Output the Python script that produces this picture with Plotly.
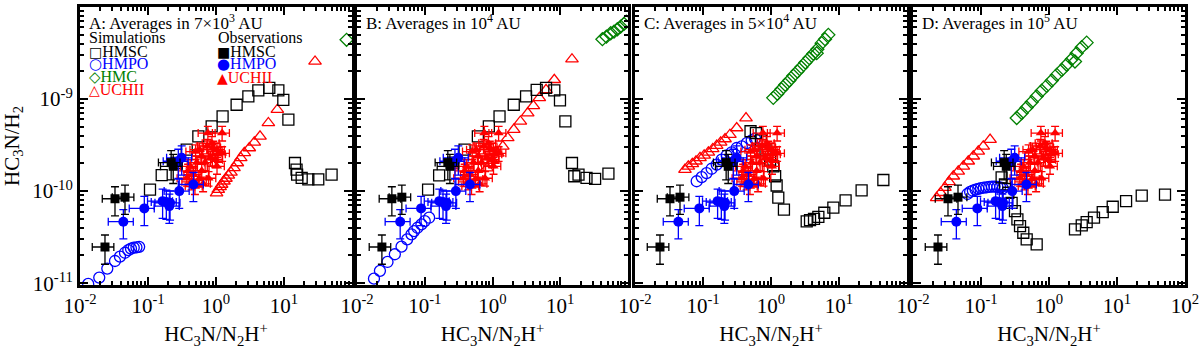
import plotly.graph_objects as go

# ---- simulations (open symbols), one set per panel ----
# panel A: 7x10^3 AU
a_hmsc_x = [0.107, 0.159, 0.264, 0.371, 0.55, 0.863, 1.25, 2.01, 2.99, 4.19, 6.08, 8.26, 9.77, 11.6,
            14.5, 15.3, 15.6, 18.2, 22.8, 31.9, 50.1]
a_hmsc_y = [1.04e-10, 1.49e-10, 2.02e-10, 2.82e-10, 3.94e-10, 5.05e-10, 6.49e-10, 8.67e-10, 1.07e-9,
            1.24e-9, 1.32e-9, 1.24e-9, 9.8e-10, 5.97e-10, 2.02e-10, 1.71e-10, 1.51e-10, 1.39e-10,
            1.34e-10, 1.34e-10, 1.51e-10]
a_hmpo_x = [0.0132, 0.0192, 0.0252, 0.0327, 0.0387, 0.0459, 0.0513, 0.0562, 0.0617, 0.0676, 0.0741]
a_hmpo_y = [9.8e-12, 1.15e-11, 1.44e-11, 1.74e-11, 1.94e-11, 2.14e-11, 2.29e-11, 2.37e-11, 2.43e-11,
            2.45e-11, 2.48e-11]
a_hmc_x = [83.2]
a_hmc_y = [4.4e-9]
a_uchii_x = [1.02, 1.08, 1.15, 1.21, 1.31, 1.4, 1.52, 1.66, 1.84, 2.06, 2.31, 2.61, 3.09, 3.66, 4.44,
             5.89, 7.98, 28.6]
a_uchii_y = [9.5e-11, 1.04e-10, 1.11e-10, 1.18e-10, 1.28e-10, 1.37e-10, 1.48e-10, 1.6e-10, 1.79e-10,
             2.02e-10, 2.3e-10, 2.6e-10, 2.94e-10, 3.39e-10, 3.94e-10, 5.5e-10, 7.66e-10, 2.56e-9]

# panel B: 10^4 AU
b_hmsc_x = [0.112, 0.163, 0.263, 0.387, 0.608, 0.883, 1.27, 2.06, 3.13, 4.49, 6.17, 8.17, 9.91, 11.9,
            14.9, 16.1, 18.6, 24.4, 32.7, 51.4]
b_hmsc_y = [1.04e-10, 1.48e-10, 2.04e-10, 2.82e-10, 3.94e-10, 5.05e-10, 6.49e-10, 8.67e-10, 1.07e-9,
            1.26e-9, 1.32e-9, 1.24e-9, 9.66e-10, 5.71e-10, 2.02e-10, 1.45e-10, 1.51e-10, 1.39e-10,
            1.36e-10, 1.55e-10]
b_hmpo_x = [0.0178, 0.0218, 0.0282, 0.0362, 0.0454, 0.055, 0.0637, 0.0697, 0.0782, 0.0893, 0.1, 0.116]
b_hmpo_y = [1.12e-11, 1.36e-11, 1.7e-11, 2.06e-11, 2.49e-11, 2.99e-11, 3.39e-11, 3.68e-11, 4.0e-11,
            4.35e-11, 4.72e-11, 5.14e-11]
b_hmc_x = [41.9, 48.0, 55.6, 62.2, 69.7, 78.0, 87.3, 94.4]
b_hmc_y = [4.47e-9, 4.76e-9, 5.19e-9, 5.4e-9, 5.73e-9, 6.12e-9, 6.55e-9, 6.93e-9]
b_uchii_x = [0.832, 1.0, 1.2, 1.42, 1.68, 2.06, 2.58, 3.31, 4.01, 4.91, 6.17, 8.17, 14.9]
b_uchii_y = [1.78e-10, 2.14e-10, 2.57e-10, 3.06e-10, 3.78e-10, 4.65e-10, 5.71e-10, 7.05e-10,
             8.45e-10, 1.03e-9, 1.26e-9, 1.62e-9, 2.71e-9]

# panel C: 5x10^4 AU
c_hmsc_x = [0.50, 0.60, 0.71, 0.83, 0.97, 1.08, 1.15, 1.21, 1.28, 1.55, 3.35, 3.75, 4.29, 4.97, 6.08,
            8.26, 12.5, 21.5, 44.9]
c_hmsc_y = [4.47e-10, 4.27e-10, 3.55e-10, 2.82e-10, 2.19e-10, 1.86e-10, 1.45e-10, 1.15e-10, 8.5e-11,
            6.3e-11, 4.68e-11, 4.84e-11, 5.0e-11, 5.25e-11, 5.82e-11, 6.61e-11, 7.94e-11, 1.02e-10,
            1.32e-10]
c_hmpo_x = [0.0807, 0.0957, 0.113, 0.134, 0.159, 0.188, 0.223, 0.264, 0.313, 0.372, 0.44, 0.52, 0.582]
c_hmpo_y = [1.28e-10, 1.42e-10, 1.57e-10, 1.75e-10, 1.94e-10, 2.2e-10, 2.45e-10, 2.64e-10, 2.94e-10,
            3.06e-10, 3.32e-10, 3.56e-10, 3.72e-10]
c_hmc_x = [1.08, 1.24, 1.42, 1.62, 1.86, 2.13, 2.44, 2.79, 3.2, 3.66, 4.19, 4.8, 5.56, 6.22, 6.97, 4.7]
c_hmc_y = [1.03e-9, 1.14e-9, 1.28e-9, 1.43e-9, 1.59e-9, 1.79e-9, 1.99e-9, 2.22e-9, 2.49e-9, 2.78e-9,
           3.1e-9, 3.48e-9, 4.05e-9, 4.47e-9, 4.98e-9, 3.15e-9]
c_uchii_x = [0.0543, 0.0608, 0.0697, 0.0789, 0.0904, 0.104, 0.12, 0.139, 0.159, 0.182, 0.211, 0.249,
             0.313, 0.429]
c_uchii_y = [1.71e-10, 1.86e-10, 1.98e-10, 2.11e-10, 2.3e-10, 2.45e-10, 2.64e-10, 2.87e-10, 3.12e-10,
             3.39e-10, 3.68e-10, 4.1e-10, 4.85e-10, 6.22e-10]

# panel D: 10^5 AU
d_hmsc_x = [0.201, 0.225, 0.252, 0.282, 0.316, 0.343, 0.375, 0.419, 0.47, 0.659, 2.41, 3.03, 3.58,
            4.59, 6.17, 8.65, 13.6, 23.1, 50.8]
d_hmsc_y = [1.41e-10, 1.18e-10, 9.6e-11, 7.46e-11, 6.05e-11, 4.92e-11, 4.17e-11, 3.53e-11, 2.99e-11,
            2.64e-11, 3.84e-11, 4.24e-11, 4.6e-11, 5.14e-11, 5.92e-11, 6.76e-11, 7.78e-11, 8.95e-11,
            9.18e-11]
d_hmpo_x = [0.0631, 0.0692, 0.0759, 0.0832, 0.0912, 0.1, 0.11, 0.12, 0.132, 0.145, 0.158, 0.174, 0.191,
            0.209]
d_hmpo_y = [9.3e-11, 9.8e-11, 1.01e-10, 1.04e-10, 1.06e-10, 1.08e-10, 1.09e-10, 1.10e-10, 1.11e-10,
            1.12e-10, 1.12e-10, 1.11e-10, 1.10e-10, 1.07e-10]
d_hmc_x = [0.335, 0.397, 0.47, 0.557, 0.659, 0.782, 0.925, 1.1, 1.3, 1.54, 1.82, 2.16, 2.55, 3.03, 3.58,
           2.41]
d_hmc_y = [6.22e-10, 7.05e-10, 8.11e-10, 9.27e-10, 1.07e-9, 1.23e-9, 1.39e-9, 1.59e-9, 1.83e-9,
           2.07e-9, 2.36e-9, 2.71e-9, 3.15e-9, 3.66e-9, 4.1e-9, 2.56e-9]
d_uchii_x = [0.0223, 0.0255, 0.0295, 0.0339, 0.0392, 0.0463, 0.055, 0.065, 0.0771, 0.0912, 0.108, 0.136]
d_uchii_y = [8.45e-11, 9.6e-11, 1.09e-10, 1.26e-10, 1.45e-10, 1.64e-10, 1.86e-10, 2.11e-10, 2.39e-10,
             2.7e-10, 3.06e-10, 3.62e-10]

# ---- observations (filled symbols, same in every panel) ----
obs_hmsc_x = [0.0327, 0.0459, 0.0233, 0.235, 0.219]
obs_hmsc_y = [8.26e-11, 8.59e-11, 2.47e-11, 1.86e-10, 2.04e-10]
obs_hmpo_x = [0.0434, 0.0883, 0.164, 0.211, 0.206, 0.288, 0.465, 0.313, 0.279, 0.186]
obs_hmpo_y = [4.65e-11, 6.49e-11, 7.78e-11, 7.46e-11, 6.87e-11, 1.0e-10, 1.18e-10, 2.3e-10, 2.11e-10,
              7.6e-11]
obs_uchii_x = [0.759, 1.23, 0.501, 0.741, 0.871, 1.035, 1.23, 0.617, 0.832, 0.692, 0.525, 0.417, 0.617,
               0.468, 0.776, 0.562, 0.372, 0.977, 1.035, 0.575, 0.912, 0.389, 0.49, 0.437, 0.646, 1.07]
obs_uchii_y = [4.27e-10, 4.27e-10, 2.69e-10, 3.09e-10, 3.31e-10, 2.82e-10, 2.57e-10, 2.4e-10, 2.29e-10,
               2.04e-10, 2.04e-10, 1.86e-10, 1.66e-10, 1.51e-10, 1.38e-10, 1.35e-10, 1.38e-10,
               2.19e-10, 1.86e-10, 2.82e-10, 2.95e-10, 1.66e-10, 1.12e-10, 1.26e-10, 1.2e-10, 2.51e-10]

panel_titles = ['A: Averages in 7\u00d710<sup>3</sup> AU', 'B: Averages in 10<sup>4</sup> AU',
                'C: Averages in 5\u00d710<sup>4</sup> AU', 'D: Averages in 10<sup>5</sup> AU']

BLACK = 'black'
BLUE = '#0000ff'
GREEN = '#008000'
RED = '#ff0000'
FONT = 'Liberation Serif, Times New Roman, serif'

sims = [
    (a_hmsc_x, a_hmsc_y, a_hmpo_x, a_hmpo_y, a_hmc_x, a_hmc_y, a_uchii_x, a_uchii_y),
    (b_hmsc_x, b_hmsc_y, b_hmpo_x, b_hmpo_y, b_hmc_x, b_hmc_y, b_uchii_x, b_uchii_y),
    (c_hmsc_x, c_hmsc_y, c_hmpo_x, c_hmpo_y, c_hmc_x, c_hmc_y, c_uchii_x, c_uchii_y),
    (d_hmsc_x, d_hmsc_y, d_hmpo_x, d_hmpo_y, d_hmc_x, d_hmc_y, d_uchii_x, d_uchii_y),
]

W, H = 1200, 356
ML, MR, MT, MB = 80, 15, 7, 71
PW = W - ML - MR
PH = H - MT - MB
panel_px = [(80, 352), (357, 628), (635, 907), (913, 1185)]
domains = [[(a - ML) / PW, (b - ML) / PW] for a, b in panel_px]

fig = go.Figure()


def open_trace(x, y, sym, color, size, ax):
    return go.Scatter(x=x, y=y, mode='markers', xaxis=ax[0], yaxis=ax[1], showlegend=False,
                      cliponaxis=True,
                      marker=dict(symbol=sym, size=size, color=color, line=dict(color=color, width=1.3)))


def obs_trace(x, y, sym, color, size, ex, ey, ax):
    return go.Scatter(x=x, y=y, mode='markers', xaxis=ax[0], yaxis=ax[1], showlegend=False,
                      marker=dict(symbol=sym, size=size, color=color),
                      error_x=dict(type='percent', value=ex, color=color, thickness=1.3, width=4),
                      error_y=dict(type='percent', value=ey, color=color, thickness=1.3, width=4))


for i, s in enumerate(sims):
    n = '' if i == 0 else str(i + 1)
    ax = ('x' + n, 'y' + n)
    fig.add_trace(open_trace(s[6], s[7], 'triangle-up-open', RED, 11, ax))
    fig.add_trace(open_trace(s[4], s[5], 'diamond-open', GREEN, 10, ax))
    fig.add_trace(open_trace(s[2], s[3], 'circle-open', BLUE, 11, ax))
    fig.add_trace(open_trace(s[0], s[1], 'square-open', BLACK, 11, ax))
    fig.add_trace(obs_trace(obs_uchii_x, obs_uchii_y, 'triangle-up', RED, 9, 28, 18, ax))
    fig.add_trace(obs_trace(obs_hmpo_x, obs_hmpo_y, 'circle', BLUE, 10, 40, 35, ax))
    fig.add_trace(obs_trace(obs_hmsc_x, obs_hmsc_y, 'square', BLACK, 9, 35, 35, ax))

x_major = [0.01, 0.1, 1, 10, 100]
x_text = ['10<sup>-2</sup>', '10<sup>-1</sup>', '10<sup>0</sup>', '10<sup>1</sup>', '10<sup>2</sup>']
y_major = [1e-11, 1e-10, 1e-9, 1e-8]
y_text = ['10<sup>-11</sup>', '10<sup>-10</sup>', '10<sup>-9</sup>', '10<sup>-8</sup>']
x_minor = [m * 10 ** e for e in range(-2, 2) for m in range(2, 10)]
y_minor = [m * 10 ** e for e in range(-12, -8) for m in range(2, 10)]

for i in range(4):
    n = '' if i == 0 else str(i + 1)
    xt = x_major if i == 3 else x_major[:4]
    xtt = x_text if i == 3 else x_text[:4]
    fig.update_layout({
        'xaxis' + n: dict(
            type='log', range=[-2, 2], domain=domains[i], anchor='y' + n, automargin=False,
            tickvals=xt, ticktext=xtt, ticks='inside', ticklen=8, tickwidth=2, tickcolor='black',
            mirror='allticks', showline=True, linewidth=3, linecolor='black', showgrid=False,
            zeroline=False, tickfont=dict(family=FONT, size=21, color='black'),
            minor=dict(tickvals=x_minor, ticks='inside', ticklen=4, tickwidth=1.5, tickcolor='black'),
            title=dict(text='HC<sub>3</sub>N/N<sub>2</sub>H<sup>+</sup>', standoff=10,
                       font=dict(family=FONT, size=21, color='black'))),
        'yaxis' + n: dict(
            type='log', range=[-11.02, -8], anchor='x' + n, automargin=False,
            tickvals=y_major, ticktext=y_text if i == 0 else ['', '', '', ''],
            ticks='inside', ticklen=8, tickwidth=2, tickcolor='black',
            mirror='allticks', showline=True, linewidth=3, linecolor='black', showgrid=False,
            zeroline=False, tickfont=dict(family=FONT, size=21, color='black'),
            minor=dict(tickvals=y_minor, ticks='inside', ticklen=4, tickwidth=1.5, tickcolor='black'),
            title=dict(text='HC<sub>3</sub>N/H<sub>2</sub>' if i == 0 else '', standoff=10,
                       font=dict(family=FONT, size=21, color='black'))),
    })


def px(xp):
    return (xp - ML) / PW


def py(yp):
    return 1 - (yp - MT) / PH


notes = []
for i, t in enumerate(panel_titles):
    notes.append(dict(text=t, x=px(panel_px[i][0] + 7), y=py(22), xanchor='left', yanchor='middle',
                      font=dict(size=17, color='black')))

glyph = '<span style="font-family:DejaVu Sans;font-size:{}px">{}</span>{}'
legend_rows = [
    ('Simulations', 87, 38, BLACK), (glyph.format(14, '\u25a1', 'HMSC'), 87, 51, BLACK),
    (glyph.format(15, '\u25cb', 'HMPO'), 87, 64, BLUE), (glyph.format(15, '\u25c7', 'HMC'), 87, 77, GREEN),
    (glyph.format(14, '\u25b3', 'UCHII'), 87, 90, RED),
    ('Observations', 216, 38, BLACK), (glyph.format(14, '\u25a0', 'HMSC'), 215, 51, BLACK),
    (glyph.format(15, '\u25cf', 'HMPO'), 215, 64, BLUE), (glyph.format(14, '\u25b2', 'UCHII'), 215, 77, RED),
]
for txt, xx, yy, col in legend_rows:
    notes.append(dict(text=txt, x=px(xx), y=py(yy), xanchor='left', yanchor='middle',
                      font=dict(size=16, color=col)))

for a in notes:
    a.update(xref='paper', yref='paper', showarrow=False)
    a['font']['family'] = FONT

fig.update_layout(
    width=W, height=H, margin=dict(l=ML, r=MR, t=MT, b=MB, autoexpand=False),
    paper_bgcolor='white', plot_bgcolor='white', showlegend=False,
    font=dict(family=FONT, color='black'),
    annotations=notes,
)

fig.write_html('out.html', config={'displayModeBar': False},
               post_script="document.body.style.margin='0';")
